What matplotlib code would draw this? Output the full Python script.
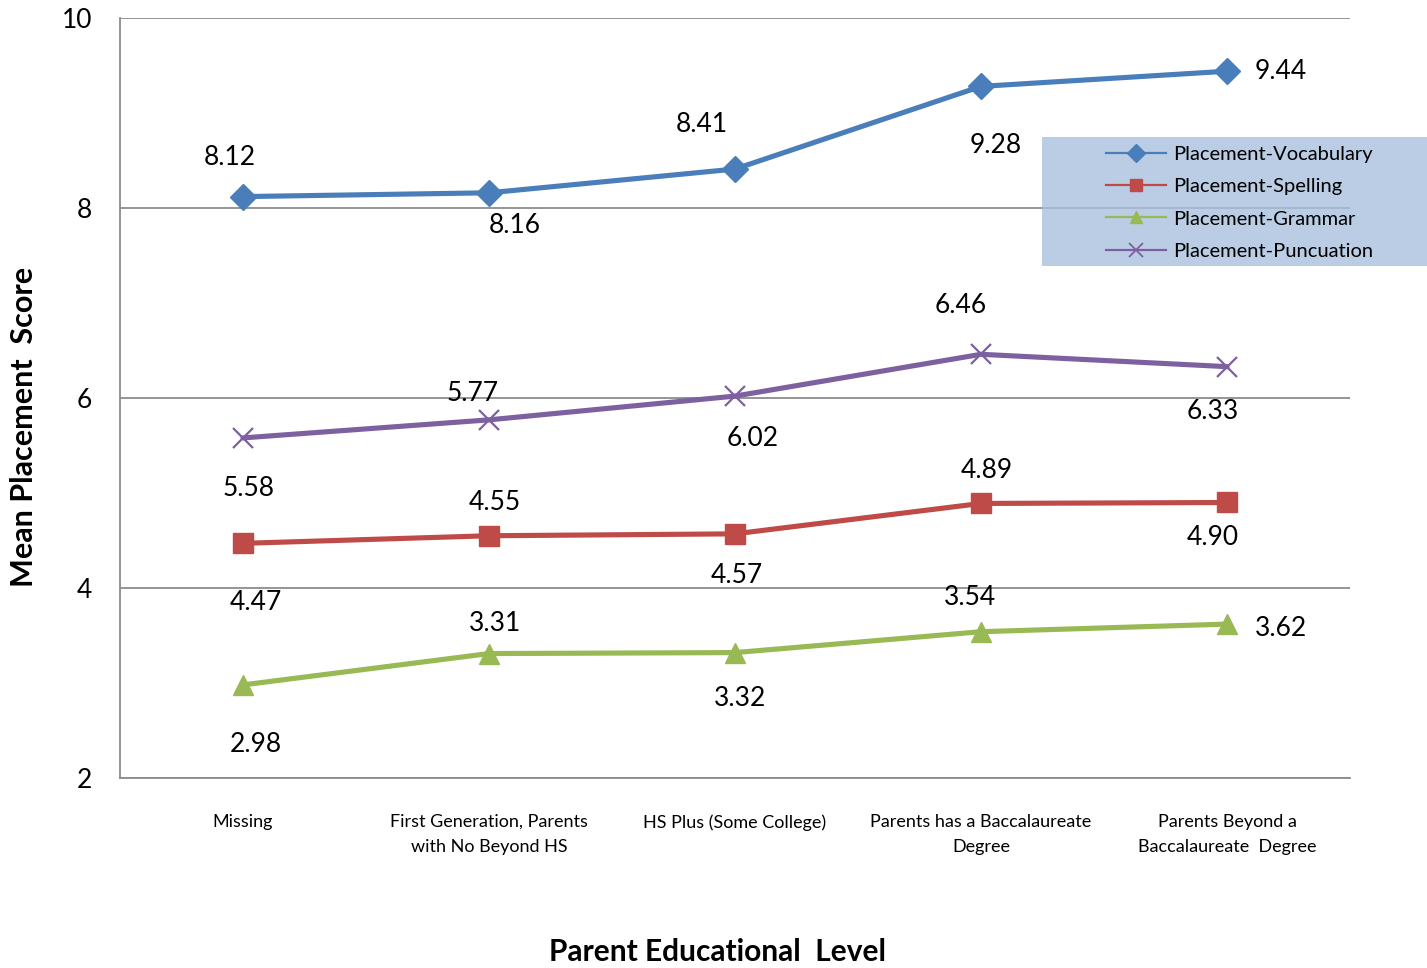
import matplotlib
matplotlib.use("Agg")
import matplotlib.pyplot as plt
from matplotlib.lines import Line2D
from matplotlib.patches import Rectangle

plt.rcParams['font.family'] = ['Lato', 'DejaVu Sans']

categories = [
    "Missing",
    "First Generation, Parents\nwith No Beyond HS",
    "HS Plus (Some College)",
    "Parents has a Baccalaureate\nDegree",
    "Parents Beyond a\nBaccalaureate  Degree",
]
vocabulary = [8.12, 8.16, 8.41, 9.28, 9.44]
spelling = [4.47, 4.55, 4.57, 4.89, 4.90]
grammar = [2.98, 3.31, 3.32, 3.54, 3.62]
punctuation = [5.58, 5.77, 6.02, 6.46, 6.33]
series_names = ["Placement-Vocabulary", "Placement-Spelling",
                "Placement-Grammar", "Placement-Puncuation"]
y_ticks = [2, 4, 6, 8, 10]

# label offsets in pixels (dx, dy) relative to each point
voc_off = [(-13, 39), (26, -33), (-33, 45), (15, -59), (54, 0)]
spe_off = [(13, -59), (6, 33), (2, -42), (6, 33), (-14, -35)]
gra_off = [(13, -60), (6, 30), (5, -46), (-11, 34), (54, -4)]
pun_off = [(6, -51), (-16, 26), (18, -42), (-20, 49), (-14, -45)]

W, H = 1427, 968
fig = plt.figure(figsize=(W / 100, H / 100), dpi=100)
ax = fig.add_axes([120 / W, 1 - 778 / H, (1350 - 120) / W, (778 - 18) / H])

x = list(range(len(categories)))
styles = [
    (vocabulary, "#4a7ebb", "D", 13, voc_off),
    (spelling, "#be4b48", "s", 14, spe_off),
    (grammar, "#98b954", "^", 15, gra_off),
    (punctuation, "#7d60a0", "x", 15, pun_off),
]
handles = []
for (vals, col, mk, ms, offs), name in zip(styles, series_names):
    ax.plot(x, vals, color=col, lw=3.7, marker=mk, markersize=ms,
            markeredgewidth=1.6 if mk == "x" else 1, markeredgecolor=col,
            markerfacecolor=col, zorder=3, solid_capstyle='round')
    for xi, v, (dx, dy) in zip(x, vals, offs):
        ax.annotate(f"{v:.2f}", (xi, v), xytext=(dx, dy), textcoords='offset pixels',
                    ha='center', va='center', fontsize=19, color='black')
    handles.append(Line2D([], [], color=col, lw=1.6, marker=mk,
                          markersize=9 if mk != "x" else 10,
                          markerfacecolor=col, markeredgecolor=col,
                          markeredgewidth=1.3 if mk == "x" else 1))

ax.set_xlim(-0.5, len(categories) - 0.5)
ax.set_ylim(2, 10)
ax.set_yticks(y_ticks)
ax.set_xticks(x)
ax.set_xticklabels(categories, fontsize=13, linespacing=1.7)
ax.tick_params(axis='x', length=0, pad=26)
ax.tick_params(axis='y', length=0, pad=20, labelsize=19)
ax.yaxis.grid(True, color='#8c8c8c', lw=1.3)
ax.set_axisbelow(True)
for s in ['top', 'right']:
    ax.spines[s].set_visible(False)
for s in ['left', 'bottom']:
    ax.spines[s].set_color('#8c8c8c')
    ax.spines[s].set_linewidth(1.3)

fig.text(24 / W, 1 - 427 / H, "Mean Placement  Score", rotation=90,
         ha='center', va='center', fontsize=22, fontweight='bold')
fig.text(717 / W, 1 - 952 / H, "Parent Educational  Level",
         ha='center', va='center', fontsize=21.5, fontweight='bold')

# legend panel
fig.patches.append(Rectangle((1042 / W, 1 - 266 / H), (1427 - 1042) / W, (266 - 137) / H,
                             transform=fig.transFigure, facecolor='#a9c1de',
                             alpha=0.8, edgecolor='none', zorder=1))
fig.legend(handles, series_names, loc='upper left',
           bbox_to_anchor=(1100 / W, 1 - 140 / H), frameon=False,
           fontsize=14.5, handlelength=3.0, handletextpad=0.35,
           labelspacing=0.75, borderaxespad=0, borderpad=0.3)

fig.savefig("out.png", dpi=100)
